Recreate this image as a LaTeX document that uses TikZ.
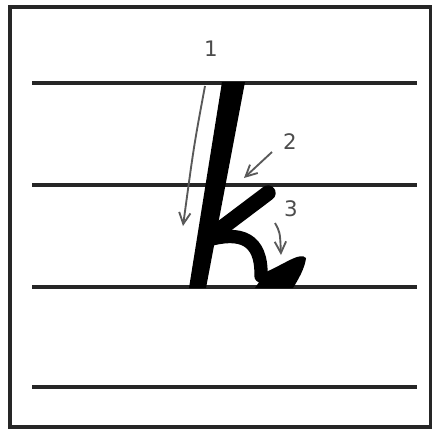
\documentclass[tikz,border=0pt]{standalone}
\usepackage{fontspec}
\setmainfont{DejaVu Sans}
\usetikzlibrary{arrows.meta}
\begin{document}
\begin{tikzpicture}[x=0.75pt, y=-0.75pt, >={Straight Barb[length=3mm, width=3mm]},
	ln/.style={line width=3pt, black!85},
	ink/.style={line width=11.5pt, black, line cap=round, line join=round},
	hint/.style={->, line width=1.4pt, black!65},
	lbl/.style={font=\fontsize{16}{16}\selectfont, text=black!70, inner sep=1pt}]
	\useasboundingbox (0,0) rectangle (432,430);
	\draw[line width=3pt, black!85] (9.5,6.5) rectangle (431,427);
	\foreach \y in {83,185,287,387} {\draw[ln] (32,\y) -- (417,\y);}
	% the letter
	\fill (222,82) -- (245,82) -- (206,288) -- (189,288) -- cycle;
	\draw[ink] (211,236) -- (268,193);
	\draw[ink, line width=10pt] (208,240) .. controls (240,231) and (262,238) .. (261,276);
	\fill (255,288) -- (293,288) .. controls (298,280) and (305,268) .. (306,258) .. controls (300,252) and (288,262) .. (266,272) -- cycle;
	% stroke order
	\node[lbl] (n1) at (211,49) {1};
	\node[lbl] (n2) at (290,142) {2};
	\node[lbl] (n3) at (291,209) {3};
	\coordinate (a1) at (205,86); \coordinate (b1) at (183,226);
	\coordinate (a2) at (272,152); \coordinate (b2) at (244,178);
	\coordinate (a3) at (275,223); \coordinate (b3) at (281,255);
	\draw[hint] (a1) .. controls (194,145) .. (b1);
	\draw[hint] (a2) -- (b2);
	\draw[hint] (a3) .. controls (280,232) .. (b3);
\end{tikzpicture}
\end{document}
